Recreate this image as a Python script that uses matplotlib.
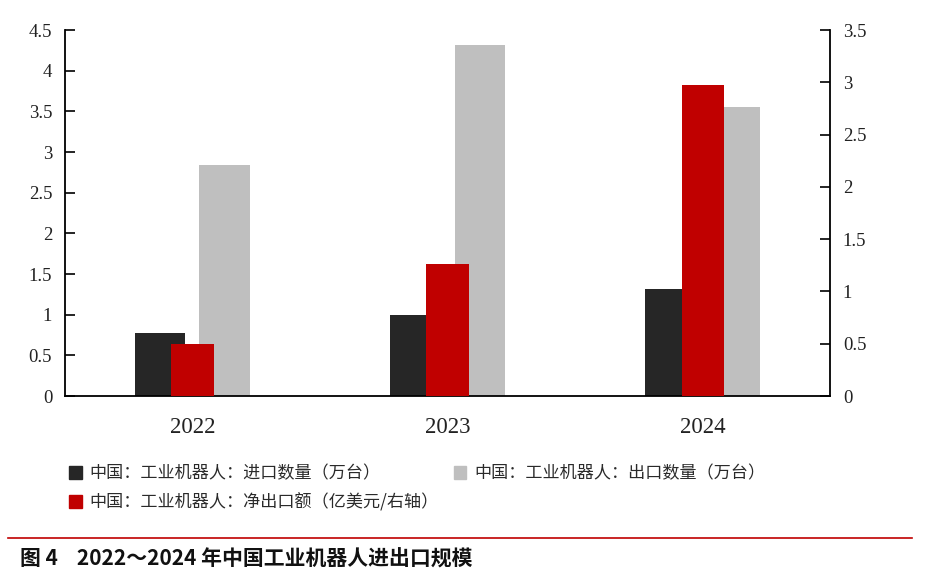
import matplotlib
matplotlib.use("Agg")
import matplotlib.pyplot as plt
import numpy as np
from matplotlib.patches import Patch
from matplotlib.lines import Line2D

plt.rcParams['font.family'] = ['Noto Sans CJK SC', 'DejaVu Sans']

# data
years = ['2022', '2023', '2024']
import_qty = [0.78, 1.00, 1.31]   # 进口数量（万台）, left axis
export_qty = [2.84, 4.31, 3.55]   # 出口数量（万台）, left axis
net_export = [0.50, 1.26, 2.97]   # 净出口额（亿美元）, right axis

c_black = '#262626'
c_red = '#c00000'
c_gray = '#bfbfbf'
serif = 'Liberation Serif'

fig = plt.figure(figsize=(9.3, 5.73), dpi=100)
ax = fig.add_axes([0.0696, 0.3089, 0.8232, 0.6387])
ax2 = ax.twinx()

x = np.arange(len(years))
ax.bar(x - 0.126, import_qty, width=0.197, color=c_black, zorder=2)
ax.bar(x + 0.126, export_qty, width=0.197, color=c_gray, zorder=2)
ax2.bar(x, net_export, width=0.166, color=c_red, zorder=3)

ax.set_xlim(-0.5, 2.5)
ax.set_ylim(0, 4.5)
ax2.set_ylim(0, 3.5)

ax.set_yticks(np.arange(0, 4.51, 0.5))
ax.set_yticklabels(['0', '0.5', '1', '1.5', '2', '2.5', '3', '3.5', '4', '4.5'])
ax2.set_yticks(np.arange(0, 3.51, 0.5))
ax2.set_yticklabels(['0', '0.5', '1', '1.5', '2', '2.5', '3', '3.5'])
ax.set_xticks(x)
ax.set_xticklabels(years)

for a in (ax, ax2):
    a.spines['top'].set_visible(False)
    for s in a.spines.values():
        s.set_linewidth(1.3)
        s.set_color('black')
ax.spines['right'].set_visible(False)
ax2.spines['left'].set_visible(False)
ax2.spines['bottom'].set_visible(False)

ax.tick_params(axis='y', direction='in', length=7, width=1.2, pad=9, labelsize=13.5)
ax2.tick_params(axis='y', direction='in', length=7, width=1.2, pad=9, labelsize=13.5)
ax.tick_params(axis='x', length=0, pad=15, labelsize=16.5)
for lab in ax.get_yticklabels() + ax2.get_yticklabels() + ax.get_xticklabels():
    lab.set_fontfamily(serif)
    lab.set_color('#222222')

handles = [
    Patch(color=c_black, label='中国：工业机器人：进口数量（万台）'),
    Patch(color=c_red, label='中国：工业机器人：净出口额（亿美元/右轴）'),
    Patch(color=c_gray, label='中国：工业机器人：出口数量（万台）'),
]
fig.legend(handles=handles, ncol=2, loc='upper left', bbox_to_anchor=(0.058, 0.216),
           frameon=False, fontsize=12.3, handlelength=0.75, handleheight=0.75,
           handletextpad=0.45, columnspacing=0.85, labelspacing=0.62,
           labelcolor='#2a2a2a')

fig.add_artist(Line2D([0.009, 0.981], [0.061, 0.061], color=c_red, linewidth=1.2,
                      transform=fig.transFigure))
fig.text(0.022, 0.025, '图 4    2022～2024 年中国工业机器人进出口规模', fontsize=15,
         fontweight='bold', va='center', ha='left', color='#111111')

fig.savefig('out.png', dpi=100)
